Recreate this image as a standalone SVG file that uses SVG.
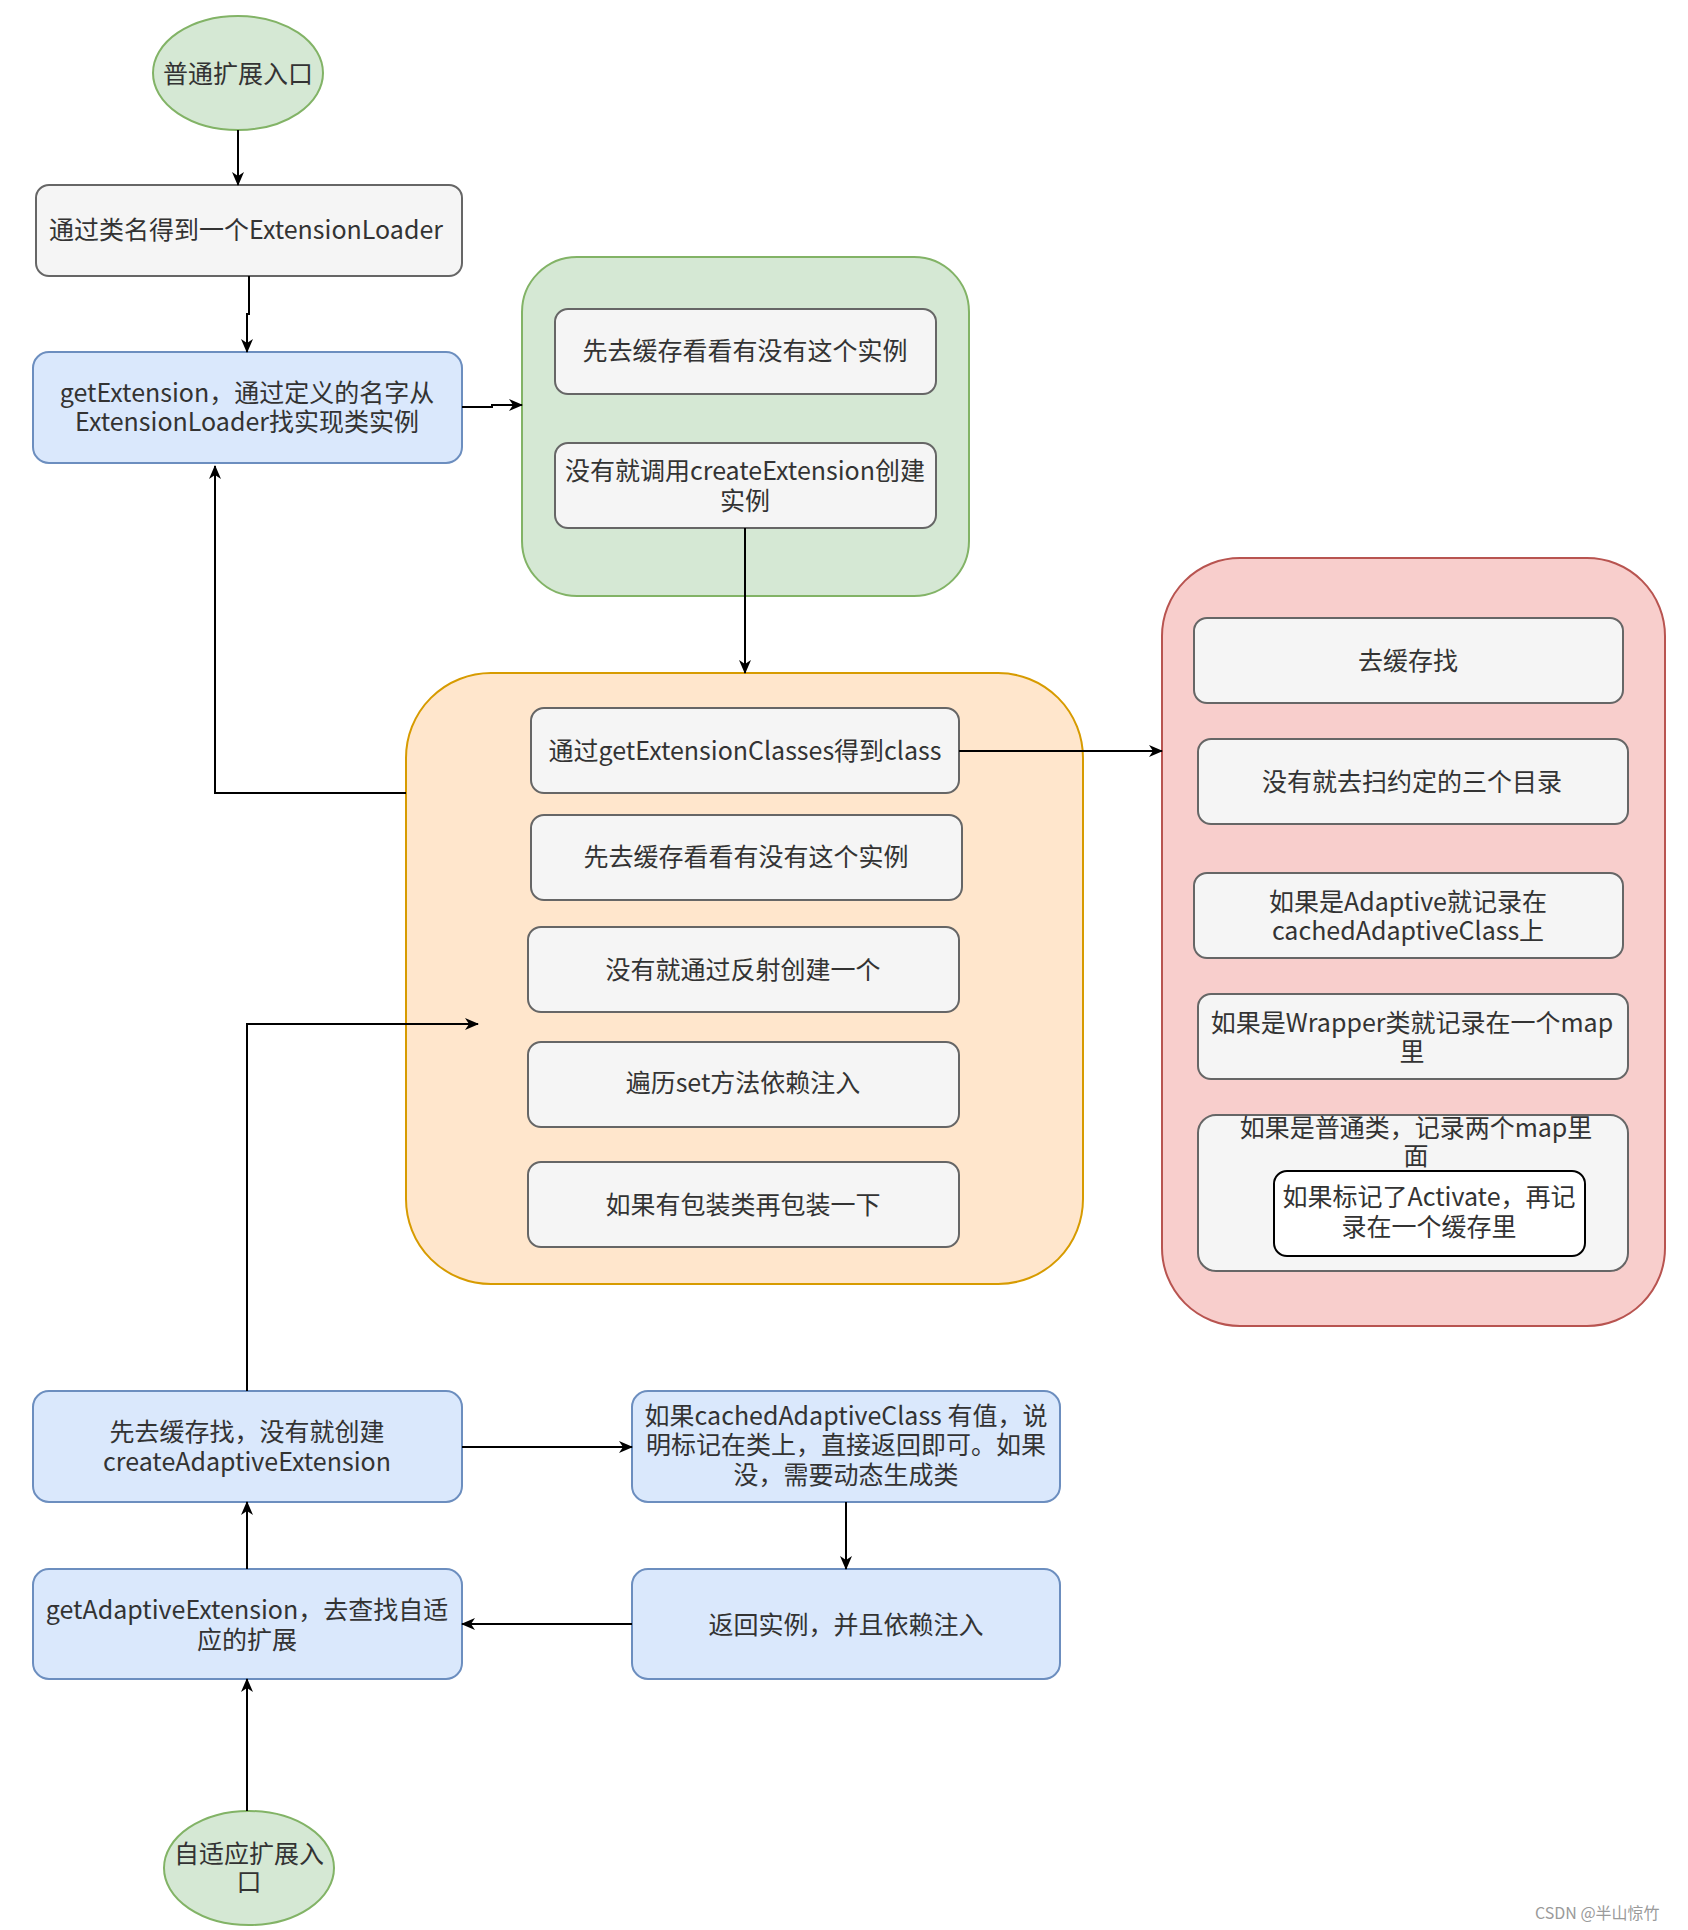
<svg xmlns="http://www.w3.org/2000/svg" width="1688" height="1930" viewBox="0 0 1688 1930">
<defs>
<style>
text{font-family:"Noto Sans CJK SC","Noto Sans",sans-serif;font-size:25px;fill:#333333;text-anchor:middle;dominant-baseline:central}
.gray{fill:#f5f5f5;stroke:#666666;stroke-width:2}
.blue{fill:#dae8fc;stroke:#6c8ebf;stroke-width:2}
.green{fill:#d5e8d4;stroke:#82b366;stroke-width:2}
.orange{fill:#ffe6cc;stroke:#d79b00;stroke-width:2}
.pink{fill:#f8cecc;stroke:#b85450;stroke-width:2}
.white{fill:#ffffff;stroke:#000000;stroke-width:2}
.edge{fill:none;stroke:#000000;stroke-width:2;marker-end:url(#arr)}
.wm{font-size:16px;fill:#9a9a9a;text-anchor:start}
</style>
<marker id="arr" markerUnits="userSpaceOnUse" markerWidth="14" markerHeight="12" refX="13" refY="6" orient="auto">
<path d="M0,0 L14,6 L0,12 L4,6 Z" fill="#000000"/>
</marker>
</defs>
<rect width="1688" height="1930" fill="#ffffff"/>

<g id="start-normal">
<ellipse class="green" cx="238" cy="73" rx="85" ry="57"/>
<text x="238" y="72">普通扩展入口</text>
</g>

<g id="get-loader">
<rect class="gray" x="36" y="185" width="426" height="91" rx="13"/>
<text x="246" y="228">通过类名得到一个ExtensionLoader</text>
</g>

<g id="get-extension">
<rect class="blue" x="33" y="352" width="429" height="111" rx="16"/>
<text x="247" y="391">getExtension，通过定义的名字从</text>
<text x="247" y="420">ExtensionLoader找实现类实例</text>
</g>

<g id="green-group">
<rect class="green" x="522" y="257" width="447" height="339" rx="55"/>
<g id="g-cache">
<rect class="gray" x="555" y="309" width="381" height="85" rx="13"/>
<text x="745" y="349">先去缓存看看有没有这个实例</text>
</g>
<g id="g-create">
<rect class="gray" x="555" y="443" width="381" height="85" rx="13"/>
<text x="745" y="469">没有就调用createExtension创建</text>
<text x="745" y="499">实例</text>
</g>
</g>

<g id="orange-group">
<rect class="orange" x="406" y="673" width="677" height="611" rx="85"/>
<g id="o-classes">
<rect class="gray" x="531" y="708" width="428" height="85" rx="13"/>
<text x="745" y="749">通过getExtensionClasses得到class</text>
</g>
<g id="o-cache">
<rect class="gray" x="531" y="815" width="431" height="85" rx="13"/>
<text x="746" y="855">先去缓存看看有没有这个实例</text>
</g>
<g id="o-reflect">
<rect class="gray" x="528" y="927" width="431" height="85" rx="13"/>
<text x="743" y="968">没有就通过反射创建一个</text>
</g>
<g id="o-inject">
<rect class="gray" x="528" y="1042" width="431" height="85" rx="13"/>
<text x="743" y="1081">遍历set方法依赖注入</text>
</g>
<g id="o-wrap">
<rect class="gray" x="528" y="1162" width="431" height="85" rx="13"/>
<text x="743" y="1203">如果有包装类再包装一下</text>
</g>
</g>

<g id="pink-group">
<rect class="pink" x="1162" y="558" width="503" height="768" rx="78"/>
<g id="p-cache">
<rect class="gray" x="1194" y="618" width="429" height="85" rx="13"/>
<text x="1408" y="659">去缓存找</text>
</g>
<g id="p-scan">
<rect class="gray" x="1198" y="739" width="430" height="85" rx="13"/>
<text x="1412" y="780">没有就去扫约定的三个目录</text>
</g>
<g id="p-adaptive">
<rect class="gray" x="1194" y="873" width="429" height="85" rx="13"/>
<text x="1408" y="900">如果是Adaptive就记录在</text>
<text x="1408" y="929">cachedAdaptiveClass上</text>
</g>
<g id="p-wrapper">
<rect class="gray" x="1198" y="994" width="430" height="85" rx="13"/>
<text x="1412" y="1021">如果是Wrapper类就记录在一个map</text>
<text x="1412" y="1050">里</text>
</g>
<g id="p-normal">
<rect class="gray" x="1198" y="1115" width="430" height="156" rx="18"/>
<text x="1416" y="1126">如果是普通类，记录两个map里</text>
<text x="1416" y="1154">面</text>
</g>
<g id="p-activate">
<rect class="white" x="1274" y="1171" width="311" height="85" rx="13"/>
<text x="1429" y="1195">如果标记了Activate，再记</text>
<text x="1429" y="1225">录在一个缓存里</text>
</g>
</g>

<g id="create-adaptive">
<rect class="blue" x="33" y="1391" width="429" height="111" rx="16"/>
<text x="247" y="1430">先去缓存找，没有就创建</text>
<text x="247" y="1460">createAdaptiveExtension</text>
</g>

<g id="cached-adaptive">
<rect class="blue" x="632" y="1391" width="428" height="111" rx="16"/>
<text x="846" y="1414">如果cachedAdaptiveClass 有值，说</text>
<text x="846" y="1443">明标记在类上，直接返回即可。如果</text>
<text x="846" y="1473">没，需要动态生成类</text>
</g>

<g id="get-adaptive">
<rect class="blue" x="33" y="1569" width="429" height="110" rx="16"/>
<text x="247" y="1608">getAdaptiveExtension，去查找自适</text>
<text x="247" y="1638">应的扩展</text>
</g>

<g id="return-instance">
<rect class="blue" x="632" y="1569" width="428" height="110" rx="16"/>
<text x="846" y="1623">返回实例，并且依赖注入</text>
</g>

<g id="start-adaptive">
<ellipse class="green" cx="249" cy="1868" rx="85" ry="57"/>
<text x="249" y="1852">自适应扩展入</text>
<text x="249" y="1880">口</text>
</g>

<g id="connectors">
<path class="edge" d="M238,130 V185"/>
<path class="edge" d="M249,276 V314 H247 V352"/>
<path class="edge" d="M462,407 H492 V405 H522"/>
<path class="edge" d="M745,528 V673"/>
<path class="edge" d="M959,751 H1162"/>
<path class="edge" d="M406,793 H215 V466"/>
<path class="edge" d="M247,1391 V1024 H478"/>
<path class="edge" d="M462,1447 H632"/>
<path class="edge" d="M846,1502 V1569"/>
<path class="edge" d="M632,1624 H462"/>
<path class="edge" d="M247,1569 V1502"/>
<path class="edge" d="M247,1811 V1679"/>
</g>

<text class="wm" x="1535" y="1912">CSDN @半山惊竹</text>
</svg>
